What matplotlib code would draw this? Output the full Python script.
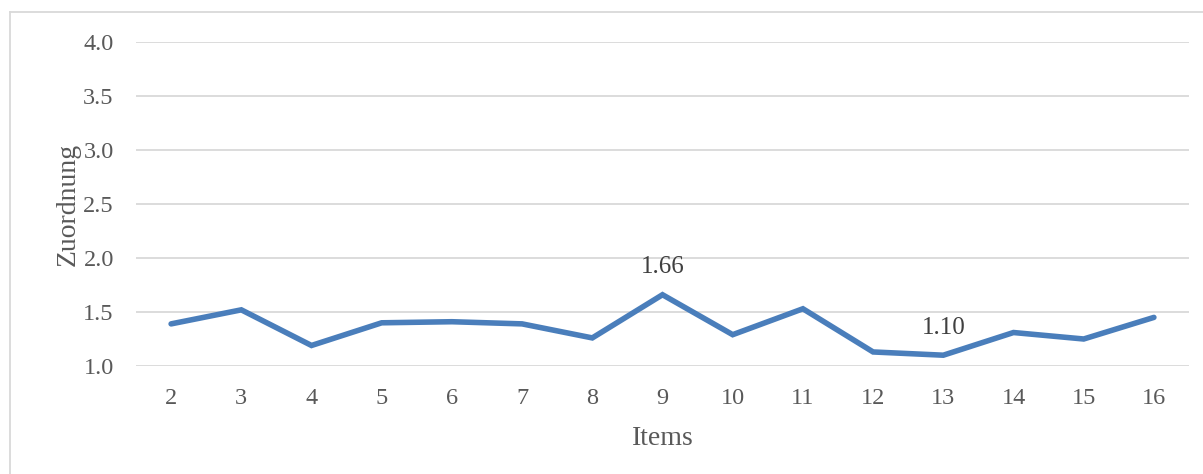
import matplotlib.pyplot as plt
from matplotlib.lines import Line2D

items = [2, 3, 4, 5, 6, 7, 8, 9, 10, 11, 12, 13, 14, 15, 16]
zuordnung = [1.39, 1.52, 1.19, 1.40, 1.41, 1.39, 1.26, 1.66, 1.29, 1.53, 1.13, 1.10, 1.31, 1.25, 1.45]
labelled = [9, 13]
y_ticks = [1.0, 1.5, 2.0, 2.5, 3.0, 3.5, 4.0]

plt.rcParams['font.family'] = ['Liberation Serif', 'DejaVu Serif']

W, H = 1203, 474
fig = plt.figure(figsize=(W / 100, H / 100), dpi=100)
ax = fig.add_axes([136 / W, (H - 366) / H, (1189 - 136) / W, (366 - 42) / H])

x = list(range(len(items)))
ax.plot(x, zuordnung, color='#4a7ebb', lw=4, solid_joinstyle='miter', solid_capstyle='round', zorder=3)

for i, v in enumerate(zuordnung):
    if items[i] in labelled:
        ax.annotate(f'{v:.2f}', (i, v), xytext=(0, 12), textcoords='offset points',
                    ha='center', va='bottom', fontsize=18, color='#404040')

ax.set_xlim(-0.5, len(items) - 0.5)
ax.set_ylim(1.0, 4.0)
ax.set_yticks(y_ticks)
ax.set_yticklabels([f'{t:.1f}' for t in y_ticks])
ax.set_xticks(x)
ax.set_xticklabels([str(i) for i in items])
ax.grid(axis='y', color='#d9d9d9', lw=1.3)
ax.set_axisbelow(True)
for s in ax.spines.values():
    s.set_visible(False)
ax.tick_params(length=0, labelsize=17.5, colors='#595959')
ax.tick_params(axis='y', pad=16)
ax.tick_params(axis='x', pad=16)
ax.set_xlabel('Items', fontsize=20, color='#595959', labelpad=12)
ax.set_ylabel('Zuordnung', fontsize=20, color='#595959', labelpad=2)

# chart border
fig.add_artist(Line2D([10 / W, 10 / W], [0, 1 - 12 / H], color='#d9d9d9', lw=1.3))
fig.add_artist(Line2D([10 / W, 1], [1 - 12 / H, 1 - 12 / H], color='#d9d9d9', lw=1.3))

fig.savefig('out.png', dpi=100)
